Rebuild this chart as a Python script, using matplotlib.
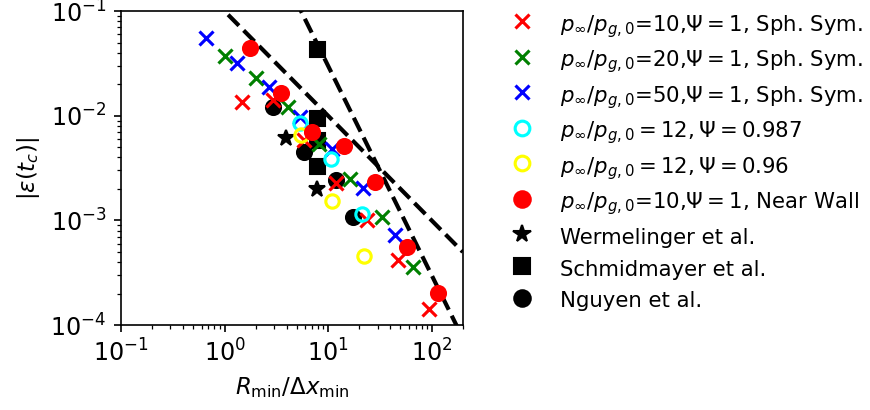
import numpy as np
import matplotlib
matplotlib.use("Agg")
import matplotlib.pyplot as plt

# spherically symmetric runs
x_sph10 = [1.48, 2.94, 5.9, 12.0, 23.8, 47.6, 94.9]
y_sph10 = [0.0134, 0.0141, 0.00585, 0.00228, 0.00100, 4.2e-4, 1.42e-4]
x_sph20 = [1.02, 2.02, 4.10, 8.18, 16.4, 32.8, 66.5]
y_sph20 = [0.0376, 0.0228, 0.0122, 0.00535, 0.00247, 0.00108, 3.62e-4]
x_sph50 = [0.665, 1.33, 2.69, 5.40, 10.8, 21.8, 44.2]
y_sph50 = [0.0551, 0.0318, 0.0187, 0.00964, 0.0048, 0.00204, 7.3e-4]

# non-spherical runs
x_psi987 = [5.32, 10.6, 21.3]
y_psi987 = [0.00845, 0.00385, 0.00116]
x_psi96 = [5.44, 11.0, 22.1]
y_psi96 = [0.00653, 0.00152, 4.62e-4]

# near wall
x_wall = [1.75, 3.48, 7.0, 14.2, 28.3, 57.3, 114]
y_wall = [0.0442, 0.0164, 0.00703, 0.00515, 0.00233, 5.55e-4, 2.01e-4]

# literature
x_werm = [3.89, 7.83]
y_werm = [0.00607, 0.00201]
x_schm = [7.83, 7.83, 7.83, 7.83]
y_schm = [0.0432, 0.00942, 0.00585, 0.00332]
x_nguy = [2.94, 5.86, 11.8, 17.5]
y_nguy = [0.0122, 0.00452, 0.00242, 0.00109]

# reference slopes
slope1_coef = 0.1
slope2_coef = 3.0

plt.rcParams['font.size'] = 10.2
plt.rcParams['xtick.labelsize'] = 11.4
plt.rcParams['ytick.labelsize'] = 11.4
plt.rcParams['axes.labelsize'] = 11

DPI = 150
fig = plt.figure(figsize=(870/DPI, 410/DPI), dpi=DPI)
ax = fig.add_axes([0.139, 0.207, 0.393, 0.766])

xr = np.logspace(-1, np.log10(200), 200)
ax.loglog(xr, slope1_coef/xr, 'k--', lw=2, zorder=1)
ax.loglog(xr, slope2_coef/xr**2, 'k--', lw=2, zorder=1)

hw, = ax.plot(x_werm, y_werm, 'k*', ms=7.8, ls='none', zorder=2, label="Wermelinger et al.")
hs, = ax.plot(x_schm, y_schm, 'ks', ms=7.2, ls='none', zorder=2, label="Schmidmayer et al.")
hn, = ax.plot(x_nguy, y_nguy, 'ko', ms=7.2, ls='none', zorder=2, label="Nguyen et al.")

h1, = ax.plot(x_sph10, y_sph10, 'rx', ms=6.4, mew=1.5, ls='none', zorder=3,
              label=r"$p_\infty/p_{g,0}$=10,$\Psi=1$, Sph. Sym.")
h2, = ax.plot(x_sph20, y_sph20, 'gx', ms=6.4, mew=1.5, ls='none', zorder=3,
              label=r"$p_\infty/p_{g,0}$=20,$\Psi=1$, Sph. Sym.")
h3, = ax.plot(x_sph50, y_sph50, 'bx', ms=6.4, mew=1.5, ls='none', zorder=3,
              label=r"$p_\infty/p_{g,0}$=50,$\Psi=1$, Sph. Sym.")
h4, = ax.plot(x_psi987, y_psi987, 'o', mfc='none', mec='cyan', ms=6.4, mew=1.5, ls='none', zorder=3,
              label=r"$p_\infty/p_{g,0}=12, \Psi=0.987$")
h5, = ax.plot(x_psi96, y_psi96, 'o', mfc='none', mec='yellow', ms=6.4, mew=1.5, ls='none', zorder=3,
              label=r"$p_\infty/p_{g,0}=12, \Psi=0.96$")
h6, = ax.plot(x_wall, y_wall, 'ro', ms=7.2, ls='none', zorder=3,
              label=r"$p_\infty/p_{g,0}$=10,$\Psi=1$, Near Wall")

ax.set_xlim(0.1, 200)
ax.set_ylim(1e-4, 1e-1)
ax.set_xlabel(r"$R_\mathrm{min}/\Delta x_\mathrm{min}$")
ax.set_ylabel(r"$|\varepsilon(t_c)|$")

ax.legend(handles=[h1, h2, h3, h4, h5, h6, hw, hs, hn], loc='upper left',
          bbox_to_anchor=(1.054, 1.058), frameon=False, markerscale=1.1,
          labelspacing=0.37, handleheight=1.35)

fig.savefig("out.png", dpi=DPI)
